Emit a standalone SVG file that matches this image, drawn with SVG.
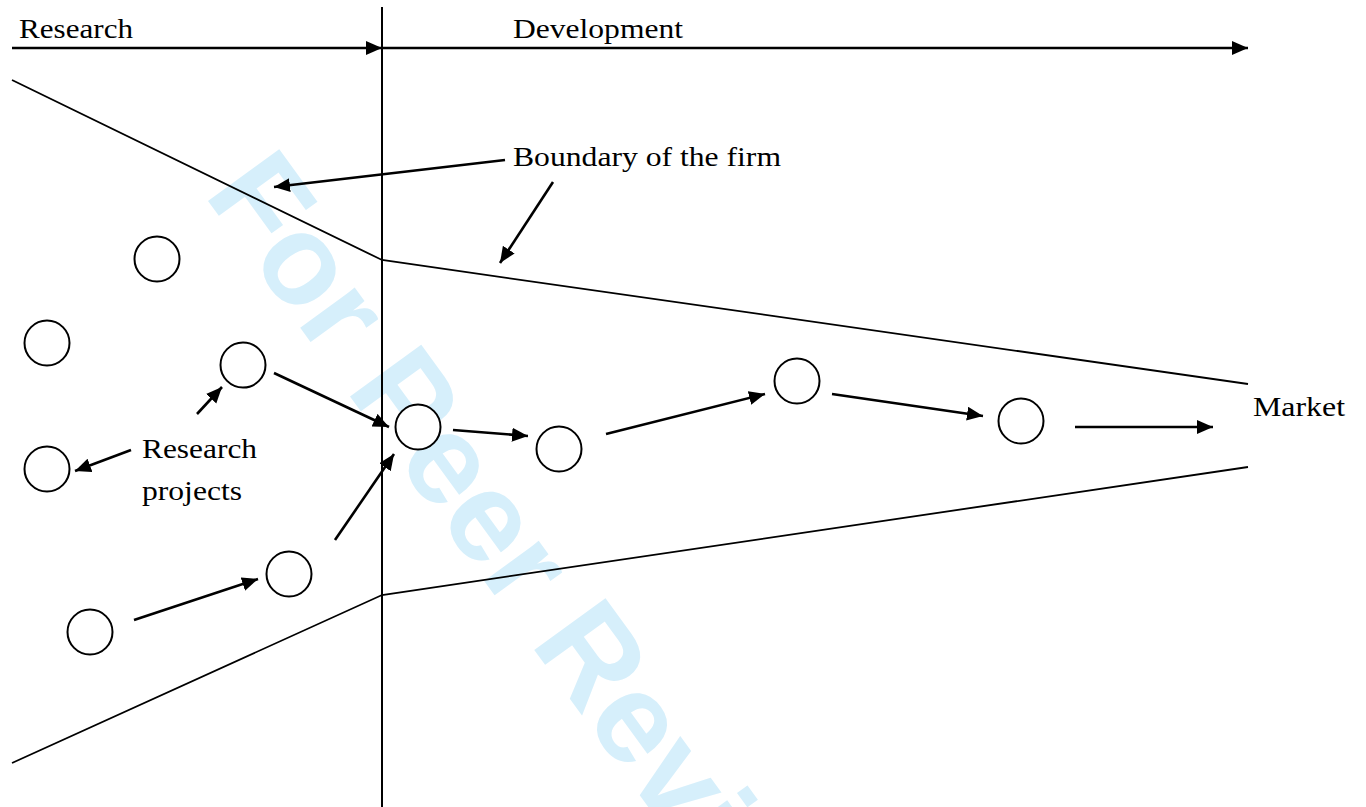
<svg xmlns="http://www.w3.org/2000/svg" width="1366" height="807" viewBox="0 0 1366 807">
<defs>
<marker id="ah" markerUnits="userSpaceOnUse" markerWidth="17" markerHeight="15" refX="16" refY="7" orient="auto">
<path d="M0,0 L16,7 L0,14 z" fill="#000"/>
</marker>
<style>
.lbl{font-family:"Liberation Serif","Times New Roman",serif;font-size:28px;fill:#000}
.wm{font-family:"Liberation Sans",Arial,sans-serif;font-weight:bold;font-size:128px;fill:#d6effb}
.node{fill:#fff;stroke:#000;stroke-width:2}
.bnd{fill:none;stroke:#000;stroke-width:1.8}
.arr{fill:none;stroke:#000;stroke-width:2.6;marker-end:url(#ah)}
</style>
</defs>
<rect width="1366" height="807" fill="#fff"/>
<g id="watermark">
<text class="wm" transform="translate(203,194) rotate(54)">For Peer Review</text>
</g>
<g id="axes">
<line x1="382" y1="7" x2="382" y2="807" stroke="#000" stroke-width="2"/>
<line x1="12" y1="48" x2="382" y2="48" class="arr"/>
<line x1="382" y1="48" x2="1248" y2="48" class="arr"/>
<text class="lbl" x="19" y="38" textLength="114" lengthAdjust="spacingAndGlyphs">Research</text>
<text class="lbl" x="513" y="38" textLength="170" lengthAdjust="spacingAndGlyphs">Development</text>
</g>
<g id="boundary">
<polyline class="bnd" points="12,80 382,260 1248,384"/>
<polyline class="bnd" points="12,763 382,595 1248,467"/>
<text class="lbl" x="513" y="166" textLength="268" lengthAdjust="spacingAndGlyphs">Boundary of the firm</text>
</g>
<g id="labels">
<text class="lbl" x="142" y="458" textLength="115" lengthAdjust="spacingAndGlyphs">Research</text>
<text class="lbl" x="142" y="500" textLength="100" lengthAdjust="spacingAndGlyphs">projects</text>
<text class="lbl" x="1253" y="416" textLength="92" lengthAdjust="spacingAndGlyphs">Market</text>
</g>
<g id="connectors">
<line class="arr" x1="505" y1="160" x2="274" y2="187"/>
<line class="arr" x1="553" y1="182" x2="500" y2="263"/>
<line class="arr" x1="274" y1="373" x2="389" y2="427"/>
<line class="arr" x1="335" y1="540" x2="394" y2="454"/>
<line class="arr" x1="134" y1="620" x2="258" y2="579"/>
<line class="arr" x1="197" y1="414" x2="222" y2="387"/>
<line class="arr" x1="131" y1="450" x2="75" y2="471"/>
<line class="arr" x1="453" y1="430" x2="528" y2="436"/>
<line class="arr" x1="606" y1="434" x2="765" y2="394"/>
<line class="arr" x1="832" y1="394" x2="983" y2="416"/>
<line class="arr" x1="1075" y1="427" x2="1213" y2="427"/>
</g>
<g id="n1"><circle class="node" cx="157" cy="259" r="22.5"/></g>
<g id="n2"><circle class="node" cx="47" cy="343" r="22.5"/></g>
<g id="n3"><circle class="node" cx="243" cy="365" r="22.5"/></g>
<g id="n4"><circle class="node" cx="47" cy="469" r="22.5"/></g>
<g id="n5"><circle class="node" cx="90" cy="632" r="22.5"/></g>
<g id="n6"><circle class="node" cx="289" cy="574" r="22.5"/></g>
<g id="n7"><circle class="node" cx="418" cy="427" r="22.5"/></g>
<g id="n8"><circle class="node" cx="559" cy="449" r="22.5"/></g>
<g id="n9"><circle class="node" cx="797" cy="381" r="22.5"/></g>
<g id="n10"><circle class="node" cx="1021" cy="421" r="22.5"/></g>
</svg>
